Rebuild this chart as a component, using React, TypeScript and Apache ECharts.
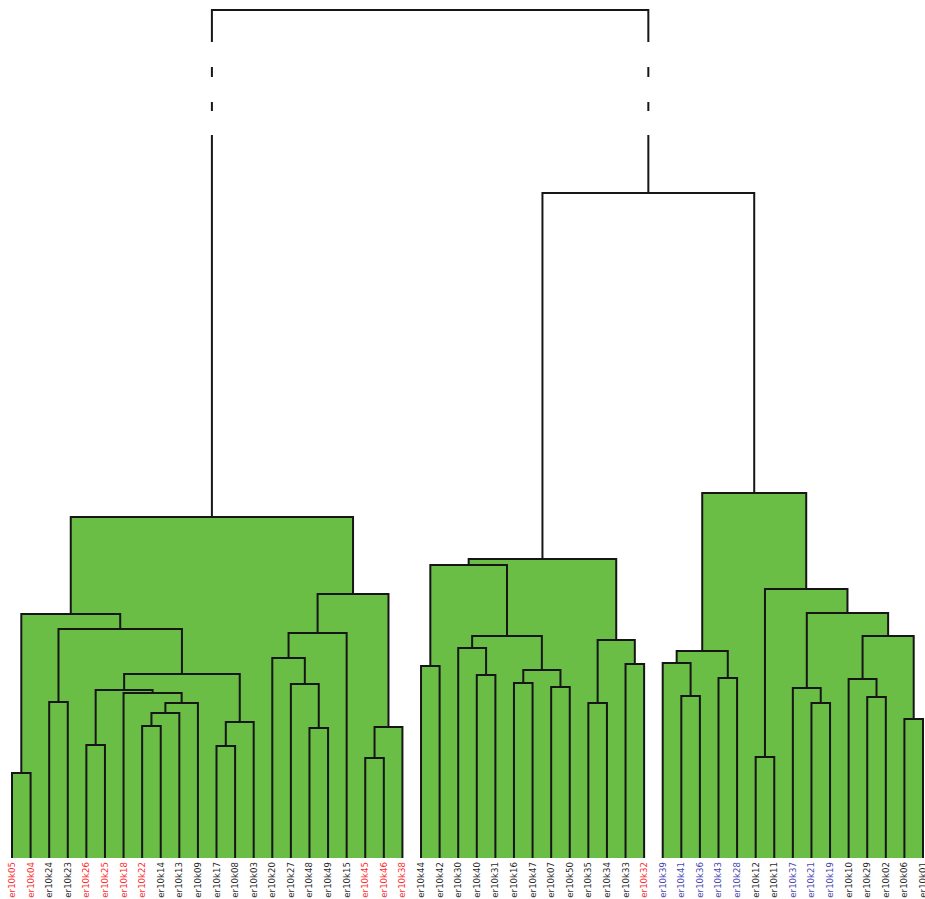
import React, { useEffect, useRef } from "react";
import * as echarts from "echarts";

// Leaf order (left to right)
const leafLabels = [
  "er10k05", "er10k04", "er10k24", "er10k23", "er10k26", "er10k25", "er10k18", "er10k22",
  "er10k14", "er10k13", "er10k09", "er10k17", "er10k08", "er10k03", "er10k20", "er10k27",
  "er10k48", "er10k49", "er10k15", "er10k45", "er10k46", "er10k38",
  "er10k44", "er10k42", "er10k30", "er10k40", "er10k31", "er10k16", "er10k47", "er10k07",
  "er10k50", "er10k35", "er10k34", "er10k33", "er10k32",
  "er10k39", "er10k41", "er10k36", "er10k43", "er10k28", "er10k12", "er10k11", "er10k37",
  "er10k21", "er10k19", "er10k10", "er10k29", "er10k02", "er10k06", "er10k01",
];

const redLeaves = [
  "er10k05", "er10k04", "er10k26", "er10k25", "er10k18", "er10k22",
  "er10k45", "er10k46", "er10k38", "er10k32",
];
const blueLeaves = [
  "er10k39", "er10k41", "er10k36", "er10k43", "er10k28", "er10k37", "er10k21", "er10k19",
];

// Merges (hclust convention): negative = leaf (1-based), positive = earlier merge (1-based)
const mergePairs: [number, number][] = [
  [-1, -2], [-3, -4], [-5, -6], [-8, -9], [4, -10], [5, -11], [-7, 6], [3, 7],
  [-12, -13], [9, -14], [8, 10], [2, 11], [1, 12], [-17, -18], [-16, 14], [-15, 15],
  [16, -19], [-20, -21], [18, -22], [17, 19], [13, 20],
  [-23, -24], [-26, -27], [-25, 23], [-28, -29], [-30, -31], [25, 26], [24, 27], [22, 28],
  [-32, -33], [-34, -35], [30, 31], [29, 32],
  [-37, -38], [-36, 34], [-39, -40], [35, 36], [-41, -42], [-44, -45], [-43, 39],
  [-47, -48], [-46, 41], [-49, -50], [42, 43], [40, 44], [38, 45], [37, 46],
  [33, 47], [21, 48],
];
const mergeHeights = [
  8.5, 15.6, 11.3, 13.2, 14.5, 15.5, 16.5, 16.8,
  11.2, 13.6, 18.4, 22.9, 24.4, 13.0, 17.4, 20.0,
  22.5, 10.0, 13.1, 26.4, 34.1,
  19.2, 18.3, 21.0, 17.5, 17.1, 18.8, 22.2, 29.3,
  15.5, 19.4, 21.8, 29.9,
  16.2, 19.5, 18.0, 20.7, 10.1, 15.5, 17.0,
  16.1, 17.9, 13.9, 22.2, 24.5, 26.9, 36.5,
  66.5, 84.8,
];

// clusters merged below this height are filled
const fillBelowHeight = 40;
// axis break: gaps (in height units) where the tall stems are not drawn
const breakGaps: [number, number][] = [
  [81.6, 79.1],
  [78.1, 75.6],
  [74.7, 72.3],
];

const GREEN = "#6abd45";
const LINE = "#161616";
const RED = "#ff2a2a";
const BLUE = "#4646b4";
const DARK = "#2a2a2a";

function nodeHeight(n: number): number {
  return n < 0 ? 0 : mergeHeights[n - 1];
}

function makeX(api: any) {
  const memo: Record<number, number> = {};
  const f = (n: number): number => {
    if (memo[n] !== undefined) return memo[n];
    let v: number;
    if (n < 0) v = api.coord([-n - 1, 0])[0];
    else {
      const [a, b] = mergePairs[n - 1];
      v = (f(a) + f(b)) / 2;
    }
    memo[n] = v;
    return v;
  };
  return f;
}

// split a vertical span [top, bottom] (heights) by breakGaps
function splitSpan(top: number, bottom: number): [number, number][] {
  let segs: [number, number][] = [[top, bottom]];
  for (const [gTop, gBot] of breakGaps) {
    const next: [number, number][] = [];
    for (const [t, b] of segs) {
      if (gBot >= t || gTop <= b) {
        next.push([t, b]);
        continue;
      }
      if (t > gTop) next.push([t, gTop]);
      if (gBot > b) next.push([gBot, b]);
    }
    segs = next;
  }
  return segs;
}

export default function App() {
  const ref = useRef<HTMLDivElement>(null);

  useEffect(() => {
    if (!ref.current) return;
    const chart = echarts.init(ref.current, null, { renderer: "svg" });

    const seriesData = mergeHeights.map((h, i) => ({ value: [i, h] }));

    const fillRender = (params: any, api: any) => {
      const i = params.dataIndex;
      const h = mergeHeights[i];
      if (h >= fillBelowHeight) return null;
      const fx = makeX(api);
      const [a, b] = mergePairs[i];
      const xl = fx(a);
      const xr = fx(b);
      const yTop = api.coord([0, h])[1];
      const yBot = api.coord([0, 0])[1];
      return {
        type: "rect",
        shape: { x: xl, y: yTop, width: xr - xl, height: yBot - yTop },
        style: { fill: GREEN, stroke: null },
      };
    };

    const lineRender = (params: any, api: any) => {
      const i = params.dataIndex;
      const h = mergeHeights[i];
      const fx = makeX(api);
      const [a, b] = mergePairs[i];
      const xl = fx(a);
      const xr = fx(b);
      const yOf = (v: number) => api.coord([0, v])[1];
      const segL = splitSpan(h, nodeHeight(a));
      const segR = splitSpan(h, nodeHeight(b));
      const style = { stroke: LINE, lineWidth: 2, fill: null, lineJoin: "miter" };
      const children: any[] = [];
      children.push({
        type: "polyline",
        shape: {
          points: [
            [xl, yOf(segL[0][1])],
            [xl, yOf(h)],
            [xr, yOf(h)],
            [xr, yOf(segR[0][1])],
          ],
        },
        style,
      });
      const extra = (x: number, segs: [number, number][]) => {
        for (let k = 1; k < segs.length; k++) {
          children.push({
            type: "line",
            shape: { x1: x, y1: yOf(segs[k][0]), x2: x, y2: yOf(segs[k][1]) },
            style: { stroke: LINE, lineWidth: 2 },
          });
        }
      };
      extra(xl, segL);
      extra(xr, segR);
      return { type: "group", children };
    };

    chart.setOption({
      animation: false,
      backgroundColor: "#ffffff",
      grid: {
        left: 12,
        right: 2,
        top: 10,
        bottom: 41,
        containLabel: false,
        outerBoundsMode: "none",
      },
      xAxis: {
        type: "category",
        data: leafLabels,
        boundaryGap: false,
        axisLine: { show: false },
        axisTick: { show: false },
        splitLine: { show: false },
        axisLabel: {
          interval: 0,
          rotate: 90,
          margin: 4,
          fontSize: 8.6,
          hideOverlap: false,
          fontFamily: "DejaVu Sans, Verdana, sans-serif",
          color: (value: string) =>
            redLeaves.includes(value) ? RED : blueLeaves.includes(value) ? BLUE : DARK,
        },
      },
      yAxis: {
        type: "value",
        show: false,
        min: 0,
        max: 84.8,
        splitLine: { show: false },
      },
      series: [
        {
          type: "custom",
          name: "fill",
          renderItem: fillRender,
          data: seriesData,
          z: 1,
          silent: true,
        },
        {
          type: "custom",
          name: "lines",
          renderItem: lineRender,
          data: seriesData,
          z: 2,
          silent: true,
        },
      ],
    });

    return () => chart.dispose();
  }, []);

  return (
    <div
      ref={ref}
      style={{ position: "fixed", left: 0, top: 0, width: 925, height: 899, background: "#fff" }}
    />
  );
}
